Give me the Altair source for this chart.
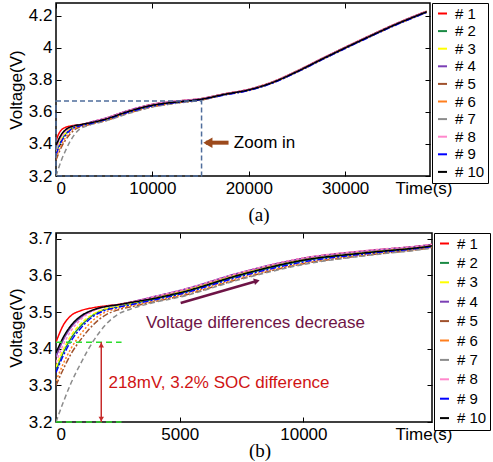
import altair as alt
import pandas as pd

# ---- cell names, colours and line styles ----
SERIES = ["# 1", "# 2", "# 3", "# 4", "# 5", "# 6", "# 7", "# 8", "# 9", "# 10"]
COLORS = ["#ff0000", "#1b8a44", "#ffff00", "#7b3fb5", "#a0522d",
          "#ff7f1e", "#8c8c8c", "#ff88cc", "#0000ff", "#000000"]
DASHES = [[1, 0], [1, 0], [4, 2], [1, 0], [6, 2, 2, 2],
          [2, 2], [5, 3], [3, 2], [6, 2, 2, 2], [1, 0]]

# ---- charging curves: time (s) and terminal voltage (V) of each cell ----
TIME_S = [0, 300, 600, 1000, 1500, 2000, 2500, 3000, 4000, 5000, 7500, 10000,
          12500, 15000, 17500, 20000, 22500, 25000, 27500, 30000, 32500, 35000, 38450]

V_1 = [3.418, 3.465, 3.490, 3.504, 3.512, 3.517, 3.521, 3.527, 3.542, 3.558, 3.608, 3.647,
       3.667, 3.683, 3.713, 3.742, 3.789, 3.856, 3.931, 4.004, 4.075, 4.144, 4.229]
V_2 = [3.340, 3.390, 3.428, 3.462, 3.492, 3.508, 3.515, 3.522, 3.536, 3.551, 3.601, 3.640,
       3.661, 3.678, 3.710, 3.738, 3.785, 3.852, 3.927, 4.000, 4.071, 4.140, 4.225]
V_3 = [3.350, 3.398, 3.435, 3.468, 3.495, 3.509, 3.516, 3.523, 3.540, 3.556, 3.606, 3.645,
       3.665, 3.681, 3.711, 3.740, 3.787, 3.854, 3.929, 4.002, 4.073, 4.142, 4.227]
V_4 = [3.378, 3.425, 3.458, 3.485, 3.505, 3.515, 3.520, 3.527, 3.543, 3.559, 3.609, 3.647,
       3.667, 3.683, 3.712, 3.741, 3.788, 3.855, 3.930, 4.003, 4.074, 4.143, 4.228]
V_5 = [3.300, 3.345, 3.385, 3.425, 3.465, 3.492, 3.506, 3.514, 3.529, 3.543, 3.592, 3.632,
       3.655, 3.674, 3.707, 3.735, 3.782, 3.849, 3.924, 3.997, 4.068, 4.137, 4.222]
V_6 = [3.312, 3.360, 3.400, 3.440, 3.478, 3.500, 3.510, 3.517, 3.531, 3.546, 3.595, 3.634,
       3.657, 3.675, 3.708, 3.736, 3.783, 3.850, 3.925, 3.998, 4.069, 4.138, 4.223]
V_7 = [3.200, 3.255, 3.305, 3.360, 3.420, 3.465, 3.494, 3.508, 3.527, 3.541, 3.590, 3.630,
       3.654, 3.673, 3.707, 3.735, 3.782, 3.849, 3.924, 3.997, 4.068, 4.137, 4.222]
V_8 = [3.362, 3.412, 3.448, 3.480, 3.503, 3.514, 3.520, 3.527, 3.543, 3.559, 3.609, 3.648,
       3.668, 3.683, 3.712, 3.741, 3.788, 3.855, 3.930, 4.003, 4.074, 4.143, 4.228]
V_9 = [3.335, 3.382, 3.420, 3.456, 3.488, 3.505, 3.513, 3.520, 3.534, 3.549, 3.598, 3.637,
       3.659, 3.677, 3.706, 3.734, 3.781, 3.848, 3.923, 3.996, 4.067, 4.136, 4.221]
V_10 = [3.389, 3.432, 3.463, 3.489, 3.506, 3.515, 3.520, 3.526, 3.538, 3.553, 3.603, 3.642,
        3.662, 3.679, 3.710, 3.738, 3.785, 3.852, 3.927, 4.000, 4.071, 4.140, 4.225]
VOLTAGES = [V_1, V_2, V_3, V_4, V_5, V_6, V_7, V_8, V_9, V_10]

# ---- axes ----
TOP_T_DOMAIN = [0, 38800]
TOP_V_DOMAIN = [3.2, 4.28]
TOP_T_TICKS = [0, 10000, 20000, 30000]
TOP_V_TICKS = [3.2, 3.4, 3.6, 3.8, 4.0, 4.2]
BOT_T_DOMAIN = [0, 15200]
BOT_V_DOMAIN = [3.2, 3.716]
BOT_T_TICKS = [0, 5000, 10000]
BOT_V_TICKS = [3.2, 3.3, 3.4, 3.5, 3.6, 3.7]

# ---- annotations ----
ZOOM_BOX_T = [0, 15100]
ZOOM_BOX_V = [3.2, 3.668]
ZOOM_ARROW_T = [15550, 17900]
ZOOM_ARROW_V = 3.408
ZOOM_TEXT = "Zoom in"
ZOOM_TEXT_T = 18450

SPREAD_V = [3.2, 3.418]
SPREAD_LINE_T = [0, 2650]
SPREAD_ARROW_T = 1830
SPREAD_TEXT = "218mV, 3.2% SOC difference"
SPREAD_TEXT_AT = (2120, 3.307)

TREND_ARROW_T = [5040, 8120]
TREND_ARROW_V = [3.525, 3.585]
TREND_TEXT = "Voltage differences decrease"
TREND_TEXT_AT = (3640, 3.471)

FONT = "Liberation Sans"

curves = pd.DataFrame(
    [{"cell": name, "t": t, "v": v}
     for name, vs in zip(SERIES, VOLTAGES)
     for t, v in zip(TIME_S, vs)]
)
# one point per cell: draws nothing, only carries the solid-line legend
legend_points = curves.groupby("cell", sort=False).head(1)


def curve_layer(t_domain, v_domain, t_ticks, v_ticks, v_fmt):
    """Charging curves with bottom/left axes."""
    return alt.Chart(curves).mark_line(strokeWidth=1.5, clip=True, interpolate="monotone").encode(
        x=alt.X("t:Q", scale=alt.Scale(domain=t_domain, nice=False, zero=False),
                axis=alt.Axis(orient="bottom", values=t_ticks, format="d", tickSize=5, offset=-5,
                              labelPadding=4, title="Time(s)", titleAlign="right",
                              titleBaseline="top", titleX=396, titleY=9)),
        y=alt.Y("v:Q", scale=alt.Scale(domain=v_domain, nice=False, zero=False),
                axis=alt.Axis(orient="left", values=v_ticks, format=v_fmt, tickSize=5, offset=-5,
                              labelPadding=4, title="Voltage(V)", titlePadding=3)),
        color=alt.Color("cell:N", scale=alt.Scale(domain=SERIES, range=COLORS), legend=None),
        strokeDash=alt.StrokeDash("cell:N", scale=alt.Scale(domain=SERIES, range=DASHES), legend=None),
    )


def key_layer(row_pad):
    """Solid-line legend for the ten cells."""
    return alt.Chart(legend_points).mark_line(strokeWidth=2).encode(
        x=alt.X("t:Q", axis=None),
        y=alt.Y("v:Q", axis=None),
        color=alt.Color("cell:N", scale=alt.Scale(domain=SERIES, range=COLORS),
                        legend=alt.Legend(title=None, orient="right", offset=1, symbolType="stroke",
                                          symbolSize=81, symbolStrokeWidth=2,
                                          labelFontSize=15, labelFont=FONT, padding=3,
                                          rowPadding=row_pad, labelOffset=5,
                                          strokeColor="black", fillColor="white")),
    )


def mirror_axes(chart, t_ticks, v_ticks, tfield, vfield):
    """Inward ticks on the top and right edges of the box."""
    return chart.encode(
        x=alt.X(tfield, axis=alt.Axis(orient="top", values=t_ticks, labels=False, tickSize=5,
                                      offset=-5, title=None, minExtent=0, maxExtent=0)),
        y=alt.Y(vfield, axis=alt.Axis(orient="right", values=v_ticks, labels=False, tickSize=5,
                                      offset=-5, title=None, minExtent=0, maxExtent=0)),
    )


# ---------- (a) full charge ----------
zoom_box = mirror_axes(
    alt.Chart(pd.DataFrame({"t": [ZOOM_BOX_T[0]], "t2": [ZOOM_BOX_T[1]],
                            "v": [ZOOM_BOX_V[0]], "v2": [ZOOM_BOX_V[1]]}))
    .mark_rect(filled=False, stroke="#4f6d9c", strokeWidth=1.5, strokeDash=[5, 3]),
    TOP_T_TICKS, TOP_V_TICKS, "t:Q", "v:Q",
).encode(x2="t2:Q", y2="v2:Q")

zoom_arrow_df = pd.DataFrame({"t": [ZOOM_ARROW_T[0]], "t2": [ZOOM_ARROW_T[1]], "v": [ZOOM_ARROW_V]})
zoom_arrow = alt.Chart(zoom_arrow_df).mark_rule(color="#9c4a1c", strokeWidth=4).encode(
    x=alt.X("t:Q", axis=None), x2="t2:Q", y=alt.Y("v:Q", axis=None))
zoom_head = alt.Chart(zoom_arrow_df).mark_point(
    shape="triangle-left", filled=True, size=110, color="#9c4a1c", opacity=1, xOffset=2).encode(
    x=alt.X("t:Q", axis=None), y=alt.Y("v:Q", axis=None))
zoom_text = alt.Chart(pd.DataFrame({"t": [ZOOM_TEXT_T], "v": [ZOOM_ARROW_V], "s": [ZOOM_TEXT]})).mark_text(
    align="left", baseline="middle", font=FONT, fontSize=17, color="black").encode(
    x=alt.X("t:Q", axis=None), y=alt.Y("v:Q", axis=None), text="s:N")

top = alt.layer(
    key_layer(1.6),
    curve_layer(TOP_T_DOMAIN, TOP_V_DOMAIN, TOP_T_TICKS, TOP_V_TICKS, ".1~f"),
    zoom_box, zoom_arrow, zoom_head, zoom_text,
).resolve_axis(x="independent", y="independent").resolve_scale(
    color="independent", strokeDash="independent").properties(
    width=374, height=173,
    title=alt.TitleParams("(a)", orient="bottom", anchor="middle", dx=16, offset=10,
                          font="Liberation Serif", fontSize=19, fontWeight="normal"))

# ---------- (b) first 15000 s ----------
spread_df = pd.DataFrame({"t": [SPREAD_LINE_T[0]] * 2, "t2": [SPREAD_LINE_T[1]] * 2, "v": SPREAD_V})
spread_lines = mirror_axes(
    alt.Chart(spread_df).mark_rule(color="#2ddc2d", strokeWidth=1.5, strokeDash=[6, 4]),
    BOT_T_TICKS, BOT_V_TICKS, "t:Q", "v:Q",
).encode(x2="t2:Q")

arrow_df = pd.DataFrame({"t": [SPREAD_ARROW_T], "v": [SPREAD_V[0]], "v2": [SPREAD_V[1]]})
spread_arrow = alt.Chart(arrow_df).mark_rule(color="#c62a2a", strokeWidth=1.5).encode(
    x=alt.X("t:Q", axis=None), y=alt.Y("v:Q", axis=None), y2="v2:Q")
spread_up = alt.Chart(arrow_df).mark_point(
    shape="triangle-up", filled=True, size=30, color="#c62a2a", opacity=1, yOffset=3).encode(
    x=alt.X("t:Q", axis=None), y=alt.Y("v2:Q", axis=None))
spread_down = alt.Chart(arrow_df).mark_point(
    shape="triangle-down", filled=True, size=30, color="#c62a2a", opacity=1, yOffset=-3).encode(
    x=alt.X("t:Q", axis=None), y=alt.Y("v:Q", axis=None))
spread_text = alt.Chart(pd.DataFrame({"t": [SPREAD_TEXT_AT[0]], "v": [SPREAD_TEXT_AT[1]],
                                      "s": [SPREAD_TEXT]})).mark_text(
    align="left", baseline="middle", font=FONT, fontSize=17, color="#d01414").encode(
    x=alt.X("t:Q", axis=None), y=alt.Y("v:Q", axis=None), text="s:N")

trend_df = pd.DataFrame({"t": [TREND_ARROW_T[0]], "t2": [TREND_ARROW_T[1]],
                         "v": [TREND_ARROW_V[0]], "v2": [TREND_ARROW_V[1]]})
trend_arrow = alt.Chart(trend_df).mark_rule(color="#6e1446", strokeWidth=2.5).encode(
    x=alt.X("t:Q", axis=None), x2="t2:Q", y=alt.Y("v:Q", axis=None), y2="v2:Q")
trend_head = alt.Chart(trend_df).mark_point(
    shape="triangle-right", filled=True, size=45, angle=344, color="#6e1446", opacity=1).encode(
    x=alt.X("t2:Q", axis=None), y=alt.Y("v2:Q", axis=None))
trend_text = alt.Chart(pd.DataFrame({"t": [TREND_TEXT_AT[0]], "v": [TREND_TEXT_AT[1]],
                                     "s": [TREND_TEXT]})).mark_text(
    align="left", baseline="middle", font=FONT, fontSize=17, color="#6e1446").encode(
    x=alt.X("t:Q", axis=None), y=alt.Y("v:Q", axis=None), text="s:N")

bottom = alt.layer(
    key_layer(3.4),
    curve_layer(BOT_T_DOMAIN, BOT_V_DOMAIN, BOT_T_TICKS, BOT_V_TICKS, ".1f"),
    spread_lines, spread_arrow, spread_up, spread_down, spread_text,
    trend_arrow, trend_head, trend_text,
).resolve_axis(x="independent", y="independent").resolve_scale(
    color="independent", strokeDash="independent").properties(
    width=376, height=189,
    title=alt.TitleParams("(b)", orient="bottom", anchor="middle", dx=16, offset=0,
                          font="Liberation Serif", fontSize=19, fontWeight="normal"))

chart = alt.vconcat(top, bottom, spacing=3).resolve_scale(
    x="independent", y="independent", color="independent", strokeDash="independent"
).properties(
    padding={"left": 6, "top": 1, "right": 0, "bottom": 0}
).configure_view(
    stroke="black", strokeWidth=1.5
).configure_axis(
    grid=False, domain=False, tickColor="black", tickWidth=1,
    labelFont=FONT, labelFontSize=17, labelColor="black",
    titleFont=FONT, titleFontSize=17, titleFontWeight="normal", titleColor="black",
).configure_title(color="black")

chart.save("out.html", embed_options={"renderer": "svg", "actions": False})
